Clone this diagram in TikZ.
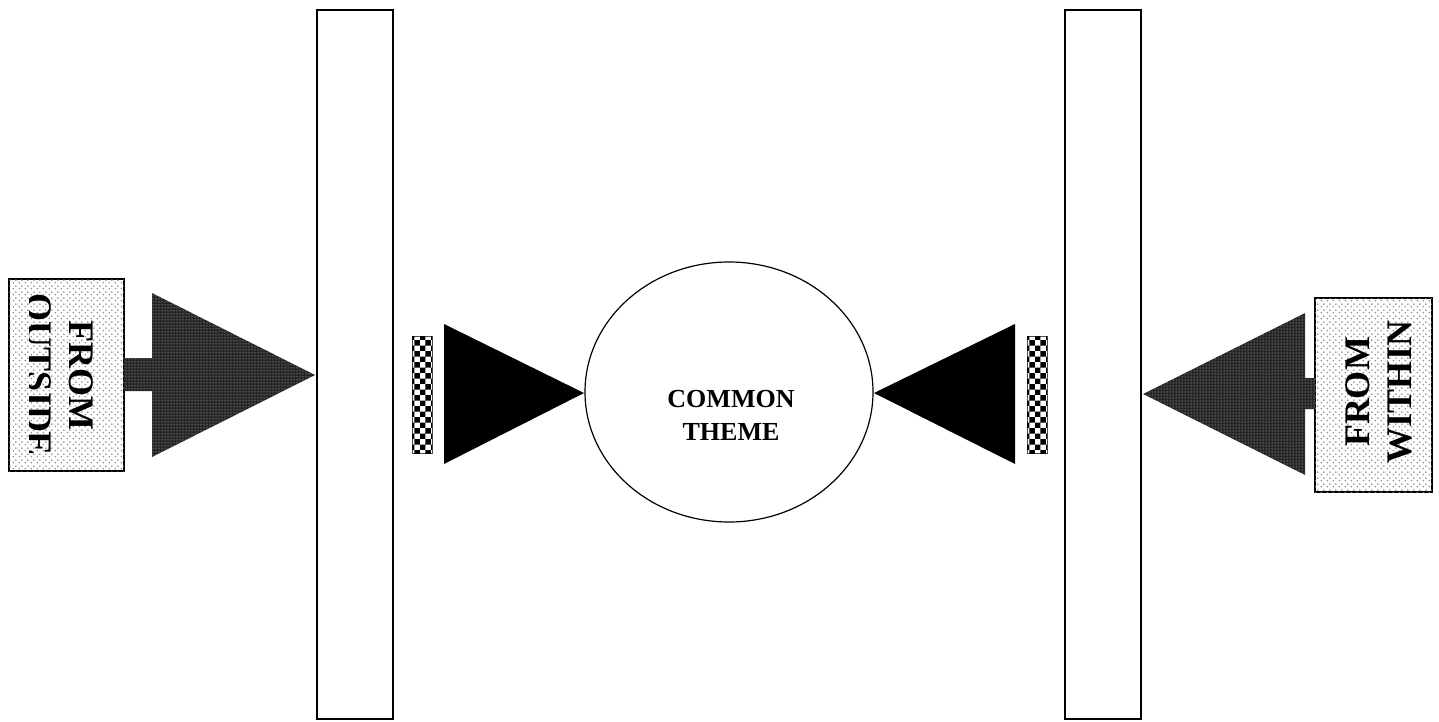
\documentclass[tikz,border=0pt]{standalone}
\usepackage{fontspec}
\setmainfont{Liberation Serif}
\usetikzlibrary{patterns,shapes.geometric}
\pgfdeclarepatternformonly{sparsedots}{\pgfqpoint{0pt}{0pt}}{\pgfqpoint{6pt}{6pt}}{\pgfqpoint{6pt}{6pt}}{%
  \pgfpathcircle{\pgfqpoint{1.5pt}{1.5pt}}{0.9pt}%
  \pgfpathcircle{\pgfqpoint{4.5pt}{4.5pt}}{0.9pt}%
  \pgfusepath{fill}}
\tikzset{
  bar/.style={draw=black, line width=1.6pt, fill=white},
  bigarrow/.style={fill=black!85, postaction={pattern=dots, pattern color=white!85!black}},
  blackhead/.style={fill=black},
  tile/.style={draw=black!70, line width=1pt, fill=white, postaction={pattern=checkerboard, pattern color=black}},
  srcbox/.style={draw=black, line width=1.6pt, fill=white, postaction={pattern=sparsedots, pattern color=black!50}},
  bigtxt/.style={font=\fontsize{36}{42}\selectfont\bfseries, align=center, inner sep=0pt},
  midtxt/.style={font=\fontsize{26}{33}\selectfont\bfseries, align=center, inner sep=0pt}
}
\begin{document}
\begin{tikzpicture}[x=1pt,y=-1pt]
\useasboundingbox (0,0) rectangle (1439,722);
% tall bars
\draw[bar] (317,10) rectangle (393,719) node[pos=.5] (barL) {};
\draw[bar] (1065,10) rectangle (1141,719) node[pos=.5] (barR) {};
% central ellipse
\node[draw, line width=1.2pt, ellipse, minimum width=288pt, minimum height=260pt, inner sep=0pt] (theme) at (729,392) {};
\node[midtxt] (themetxt) at (731,415) {COMMON\\THEME};
% black heads
\fill[blackhead] (444,324) -- (584,393) -- (444,464) -- cycle;
\fill[blackhead] (1015,324) -- (874,393) -- (1015,464) -- cycle;
% small tiles
\draw[tile] (412,336) rectangle (432,453);
\draw[tile] (1027,336) rectangle (1047,453);
% left source box and arrow
\draw[srcbox] (9,279) rectangle (124,471);
\fill[bigarrow] (124,358) -- (152,358) -- (152,293) -- (315,375) -- (152,457) -- (152,391) -- (124,391) -- cycle;
\begin{scope}
\clip (29,280) rectangle (123,470);
\node[bigtxt, rotate=-90] (outside) at (60,375) {FROM\\OUTSIDE};
\end{scope}
% right source box and arrow
\draw[srcbox] (1315,298) rectangle (1432,492);
\fill[bigarrow] (1315,378) -- (1305,378) -- (1305,313) -- (1143,394) -- (1305,475) -- (1305,409) -- (1315,409) -- cycle;
\node[bigtxt, rotate=90] (within) at (1379,392) {FROM\\WITHIN};
\end{tikzpicture}
\end{document}
